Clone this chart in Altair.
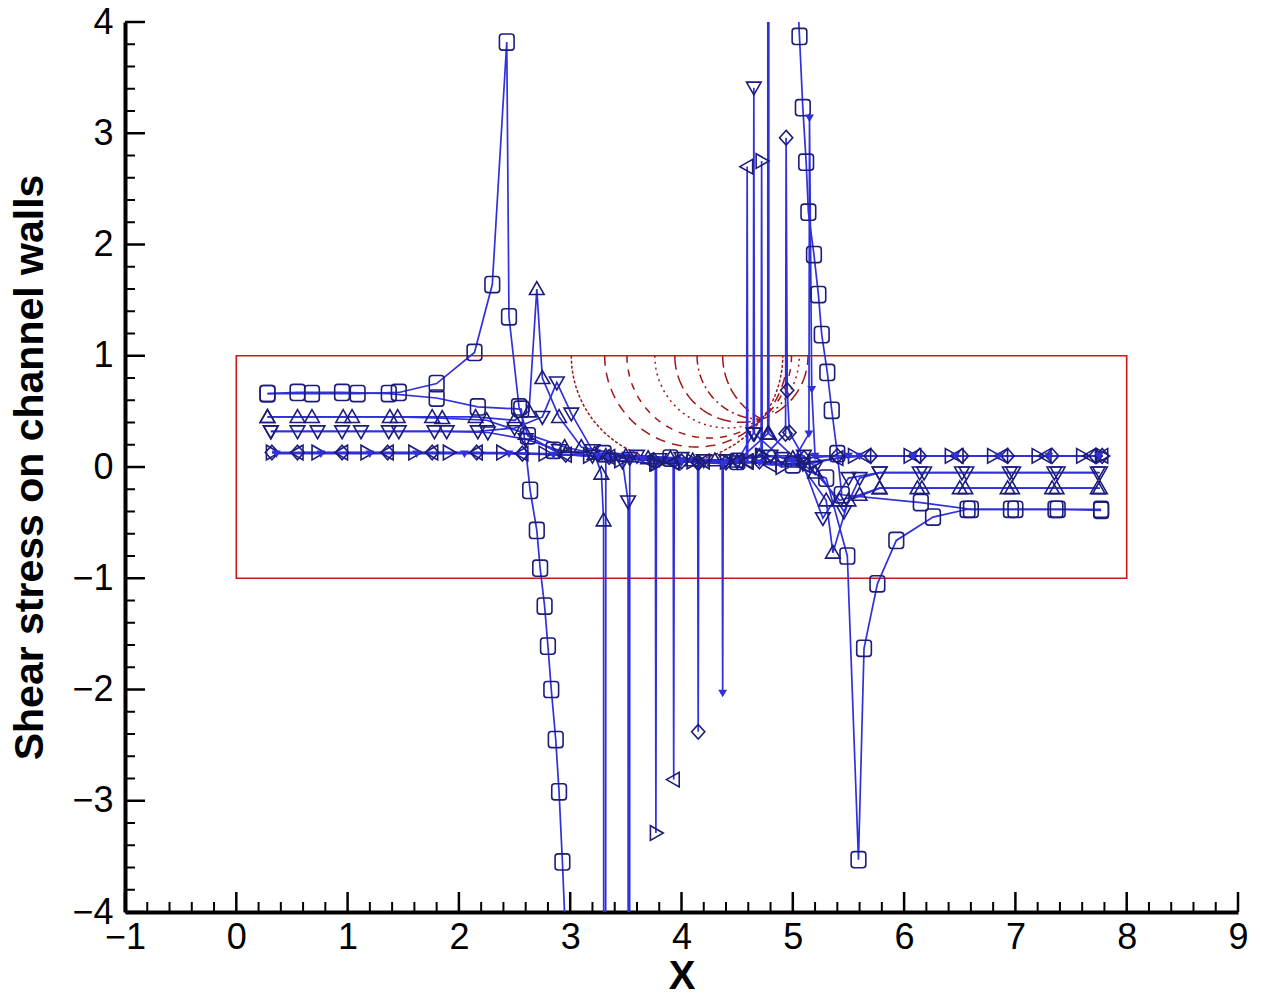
import altair as alt
import numpy as np
import pandas as pd

# ---------------- wall shear-stress curves (x, tau) ----------------
circ_a_x = [0.28, 0.68, 1.09, 1.46, 1.8, 2.14, 2.3, 2.43, 2.45, 2.54, 2.62, 2.85, 3.3, 3.9, 4.5, 5.0,
            5.3, 5.49, 5.59, 5.64, 5.76, 5.93, 6.26, 6.57, 6.96, 7.36, 7.77]
circ_a_y = [0.66, 0.66, 0.66, 0.67, 0.75, 1.03, 1.64, 3.82, 1.35, 0.54, 0.28, 0.15, 0.12, 0.08, 0.05, 0.02,
            -0.1, -0.8, -3.53, -1.63, -1.05, -0.66, -0.45, -0.38, -0.38, -0.38, -0.38]

circ_b_x = [0.28, 0.55, 0.95, 1.37, 1.8, 2.17, 2.56, 2.64, 2.7, 2.73, 2.77, 2.8, 2.83, 2.87, 2.9, 2.93, 2.97]
circ_b_y = [0.66, 0.67, 0.67, 0.66, 0.62, 0.54, 0.52, -0.21, -0.57, -0.91, -1.25, -1.61, -2.0, -2.45,
            -2.92, -3.55, -4.5]

circ_c_x = [5.03, 5.06, 5.09, 5.12, 5.14, 5.19, 5.23, 5.26, 5.31, 5.35, 5.4, 5.44, 6.15, 6.6, 7.0, 7.38, 7.77]
circ_c_y = [4.5, 3.87, 3.23, 2.74, 2.29, 1.91, 1.55, 1.19, 0.85, 0.51, 0.12, -0.25, -0.32, -0.38, -0.38,
            -0.38, -0.39]

up_a_x = [0.28, 0.68, 1.04, 1.45, 1.85, 2.25, 2.6, 2.95, 3.22, 3.28, 3.3, 3.31, 3.32, 3.7, 4.1, 4.5,
          4.775, 4.78, 4.785, 5.05, 5.3, 5.36, 5.5, 5.78, 6.12, 6.5, 6.93, 7.33, 7.74]
up_a_y = [0.45, 0.45, 0.45, 0.45, 0.44, 0.42, 0.3, 0.18, 0.12, -0.06, -0.48, -40.0, 0.1, 0.08, 0.06, 0.05,
          0.3, 40.0, 0.3, 0.05, -0.3, -0.77, -0.3, -0.19, -0.19, -0.19, -0.19, -0.19, -0.19]

up_b_x = [0.28, 0.55, 0.96, 1.38, 1.76, 2.15, 2.5, 2.63, 2.7, 2.75, 2.9, 3.1, 3.5, 3.9, 4.3, 4.7, 5.0,
          5.2, 5.42, 5.6, 5.78, 6.16, 6.55, 6.97, 7.37, 7.76]
up_b_y = [0.45, 0.45, 0.45, 0.45, 0.45, 0.45, 0.42, 0.5, 1.6, 0.8, 0.45, 0.18, 0.1, 0.08, 0.06, 0.1, 0.08,
          -0.05, -0.3, -0.25, -0.19, -0.19, -0.19, -0.19, -0.19, -0.19]

dn_a_x = [0.31, 0.73, 1.12, 1.46, 1.89, 2.26, 2.6, 2.9, 3.2, 3.47, 3.52, 3.53, 3.535, 3.8, 4.2, 4.5,
          4.645, 4.65, 4.655, 4.9, 5.09, 5.27, 5.5, 5.78, 6.14, 6.52, 6.95, 7.35, 7.74]
dn_a_y = [0.32, 0.32, 0.32, 0.32, 0.32, 0.31, 0.25, 0.15, 0.1, 0.05, -0.31, -40.0, 0.08, 0.07, 0.06, 0.05,
          0.3, 3.41, 0.3, 0.08, 0.03, -0.46, -0.1, -0.05, -0.05, -0.05, -0.05, -0.05, -0.05]

dn_b_x = [0.31, 0.55, 0.95, 1.37, 1.78, 2.17, 2.5, 2.75, 2.88, 3.01, 3.2, 3.6, 4.0, 4.4, 4.8, 5.1, 5.2,
          5.46, 5.6, 5.78, 6.18, 6.56, 6.98, 7.38, 7.76]
dn_b_y = [0.32, 0.32, 0.32, 0.32, 0.32, 0.32, 0.35, 0.45, 0.76, 0.48, 0.15, 0.1, 0.08, 0.06, 0.1, 0.1, 0.0,
          -0.4, -0.1, -0.05, -0.05, -0.05, -0.05, -0.05, -0.05]

right_x = [0.32, 0.73, 1.17, 1.6, 1.91, 2.39, 2.77, 3.17, 3.45, 3.765, 3.77, 3.775, 4.1, 4.4, 4.715, 4.72,
           4.725, 4.9, 5.2, 5.55, 6.05, 6.42, 6.8, 7.2, 7.6, 7.78]
right_y = [0.13, 0.13, 0.13, 0.13, 0.13, 0.13, 0.12, 0.1, 0.06, 0.03, -3.29, 0.03, 0.05, 0.05, 0.1, 2.75,
           0.1, 0.0, 0.05, 0.1, 0.1, 0.1, 0.1, 0.1, 0.1, 0.1]

left_x = [0.55, 0.95, 1.36, 1.76, 2.16, 2.57, 2.96, 3.35, 3.7, 3.925, 3.93, 3.935, 4.2, 4.5, 4.585, 4.59,
          4.595, 4.8, 5.1, 5.4, 5.65, 6.1, 6.48, 6.88, 7.27, 7.67, 7.78]
left_y = [0.13, 0.13, 0.13, 0.13, 0.13, 0.12, 0.11, 0.09, 0.06, 0.04, -2.81, 0.04, 0.05, 0.05, 0.05, 2.70,
          0.05, 0.02, 0.02, 0.08, 0.1, 0.1, 0.1, 0.1, 0.1, 0.1, 0.1]

diam_x = [0.32, 0.55, 0.95, 1.36, 1.76, 2.16, 2.57, 2.96, 3.35, 3.75, 4.0, 4.145, 4.15, 4.155, 4.4, 4.7,
          4.935, 4.94, 4.95, 4.97, 5.1, 5.4, 5.7, 6.14, 6.52, 6.93, 7.33, 7.72, 7.78]
diam_y = [0.13, 0.13, 0.13, 0.13, 0.13, 0.13, 0.12, 0.11, 0.09, 0.06, 0.05, 0.04, -2.38, 0.04, 0.04, 0.05,
          0.3, 2.96, 0.69, 0.31, 0.08, 0.1, 0.1, 0.1, 0.1, 0.1, 0.1, 0.1, 0.1]

solid_x = [0.36, 0.76, 1.2, 1.62, 2.05, 2.45, 2.85, 3.25, 3.65, 4.0, 4.365, 4.37, 4.375, 4.7, 5.0, 5.145,
           5.15, 5.17, 5.2, 5.5, 5.6, 6.08, 6.46, 6.85, 7.3, 7.75]
solid_y = [0.12, 0.12, 0.12, 0.12, 0.12, 0.12, 0.11, 0.1, 0.07, 0.05, 0.03, -2.03, 0.03, 0.04, 0.05, 0.3,
           3.14, 0.7, 0.1, 0.1, 0.1, 0.1, 0.1, 0.1, 0.1, 0.1]

curves = [
    ("circ_a", circ_a_x, circ_a_y, "circle"),
    ("circ_b", circ_b_x, circ_b_y, "circle"),
    ("circ_c", circ_c_x, circ_c_y, "circle"),
    ("up_a", up_a_x, up_a_y, "tri_up"),
    ("up_b", up_b_x, up_b_y, "tri_up"),
    ("dn_a", dn_a_x, dn_a_y, "tri_dn"),
    ("dn_b", dn_b_x, dn_b_y, "tri_dn"),
    ("right", right_x, right_y, "tri_r"),
    ("left", left_x, left_y, "tri_l"),
    ("diam", diam_x, diam_y, "diamond"),
    ("solid", solid_x, solid_y, "solid"),
]

rows = []
for name, xs_, ys_, marker in curves:
    for k, (xv, yv) in enumerate(zip(xs_, ys_)):
        rows.append({"curve": name, "k": k, "x": xv, "y": yv, "marker": marker})
df = pd.DataFrame(rows)

# ---------------- channel outline and contour arcs ----------------
box_x, box_x2, box_y, box_y2 = [0.0], [8.0], [-1.0], [1.0]

arc_left_x = [3.01, 3.31, 3.51, 3.76, 3.94, 4.14, 4.37]
arc_full = [True, True, True, True, True, False, False]
arc_names = ["a1", "a2", "a3", "a4", "a5", "a6", "a7"]
arc_dashes = [[3, 2], [10, 7], [7, 7], [2, 4], [14, 6], [9, 4, 2, 4], [12, 5]]
focus_x, focus_y, top_y = 4.72, 0.43, 1.0

arc_rows = []
for name, L, full in zip(arc_names, arc_left_x, arc_full):
    h = top_y - focus_y
    s = focus_x - L
    r = (s + h * h / s) / 2
    cx = focus_x - (s - h * h / s) / 2
    t_end = 2 * np.pi if full else np.arctan2(focus_y - top_y, focus_x - cx) % (2 * np.pi)
    for i, t in enumerate(np.linspace(np.pi, t_end, 90)):
        arc_rows.append({"arc": name, "i": i, "x": cx + r * np.cos(t), "y": top_y + r * np.sin(t)})
arcs = pd.DataFrame(arc_rows)

# ---------------- axes ----------------
x_major = [-1, 0, 1, 2, 3, 4, 5, 6, 7, 8, 9]
y_major = [-4, -3, -2, -1, 0, 1, 2, 3, 4]
x_minor = [v / 5 for v in range(-5, 46) if v % 5]
y_minor = [v / 5 for v in range(-20, 21) if v % 5]

W, H = 1113, 890
FONT = "Liberation Sans, Arial, sans-serif"
LINE_BLUE = "#3030dc"
MARK_NAVY = "#1c1c7c"
RED = "#c41a1a"

xs = alt.Scale(domain=[-1, 9], nice=False, zero=False)
ys = alt.Scale(domain=[-4, 4], nice=False, zero=False)

x_axis = alt.Axis(values=x_major, ticks=False, grid=False, domainColor="black", domainWidth=4,
                  labelFont=FONT, labelFontSize=36, labelColor="black", labelPadding=8,
                  labelFlush=False, format="d", title="X", titleFont=FONT, titleFontSize=40,
                  titleFontWeight="bold", titleColor="black", titleX=W / 2, titleY=64,
                  titleBaseline="middle", titleAlign="center")
y_axis = alt.Axis(values=y_major, ticks=False, grid=False, domainColor="black", domainWidth=4,
                  labelFont=FONT, labelFontSize=36, labelColor="black", labelPadding=12,
                  labelFlush=False, format="d", title="Shear stress on channel walls",
                  titleFont=FONT, titleFontSize=41, titleFontWeight="bold", titleColor="black",
                  titleX=-95, titleY=H / 2, titleAngle=270, titleBaseline="middle",
                  titleAlign="center")

X = lambda f: alt.X(f, type="quantitative", scale=xs, axis=x_axis)
Y = lambda f: alt.Y(f, type="quantitative", scale=ys, axis=y_axis)

box = alt.Chart(pd.DataFrame({"x": box_x, "x2": box_x2, "y": box_y, "y2": box_y2})).mark_rect(
    fillOpacity=0, stroke=RED, strokeWidth=1.6
).encode(x=X("x"), x2="x2", y=Y("y"), y2="y2")

arc_layer = alt.Chart(arcs).mark_line(clip=True, color="#a01414", strokeWidth=1.5).encode(
    x=X("x"), y=Y("y"), detail="arc:N", order="i:Q",
    strokeDash=alt.StrokeDash("arc:N", scale=alt.Scale(domain=arc_names, range=arc_dashes), legend=None),
)

lines = alt.Chart(df).mark_line(clip=True, color=LINE_BLUE, strokeWidth=1.7).encode(
    x=X("x"), y=Y("y"), detail="curve:N", order="k:Q"
)

circle_path = ("M-0.6,-1.1 L0.6,-1.1 Q1,-1.1 1,-0.7 L1,0.7 Q1,1.1 0.6,1.1 L-0.6,1.1 "
               "Q-1,1.1 -1,0.7 L-1,-0.7 Q-1,-1.1 -0.6,-1.1 Z")
shape_domain = ["circle", "tri_up", "tri_dn", "tri_r", "tri_l", "diamond"]
shape_range = [circle_path, "M0,-1 L1,0.75 L-1,0.75 Z", "M0,1 L1,-0.75 L-1,-0.75 Z",
               "M1,0 L-0.75,-1 L-0.75,1 Z", "M-1,0 L0.75,-1 L0.75,1 Z", "M0,-1 L0.9,0 L0,1 L-0.9,0 Z"]

markers = alt.Chart(df).transform_filter(alt.datum.marker != "solid").mark_point(
    clip=True, filled=False, color=MARK_NAVY, strokeWidth=1.6, size=215, opacity=1
).encode(
    x=X("x"), y=Y("y"),
    shape=alt.Shape("marker:N", scale=alt.Scale(domain=shape_domain, range=shape_range), legend=None),
)

solid_markers = alt.Chart(df).transform_filter(alt.datum.marker == "solid").mark_point(
    clip=True, filled=True, color=LINE_BLUE, shape="M0,1 L1,-0.7 L-1,-0.7 Z", size=80, opacity=1
).encode(x=X("x"), y=Y("y"))

x_ticks_major = alt.Chart(pd.DataFrame({"v": x_major})).mark_rule(color="black", strokeWidth=2.5).encode(
    x=X("v"), y=alt.value(H), y2=alt.value(H - 20))
x_ticks_minor = alt.Chart(pd.DataFrame({"v": x_minor})).mark_rule(color="black", strokeWidth=2).encode(
    x=X("v"), y=alt.value(H), y2=alt.value(H - 10))
y_ticks_major = alt.Chart(pd.DataFrame({"v": y_major})).mark_rule(color="black", strokeWidth=2.5).encode(
    y=Y("v"), x=alt.value(0), x2=alt.value(20))
y_ticks_minor = alt.Chart(pd.DataFrame({"v": y_minor})).mark_rule(color="black", strokeWidth=2).encode(
    y=Y("v"), x=alt.value(0), x2=alt.value(10))

chart = alt.layer(
    box, arc_layer, lines, markers, solid_markers,
    x_ticks_minor, x_ticks_major, y_ticks_minor, y_ticks_major,
).properties(
    width=W, height=H,
    padding={"left": 125, "top": 22, "right": 23, "bottom": 85},
    autosize=alt.AutoSizeParams(type="none"),
    background="white",
).configure_view(stroke=None)

chart.save("out.html", embed_options={"renderer": "svg", "actions": False})
